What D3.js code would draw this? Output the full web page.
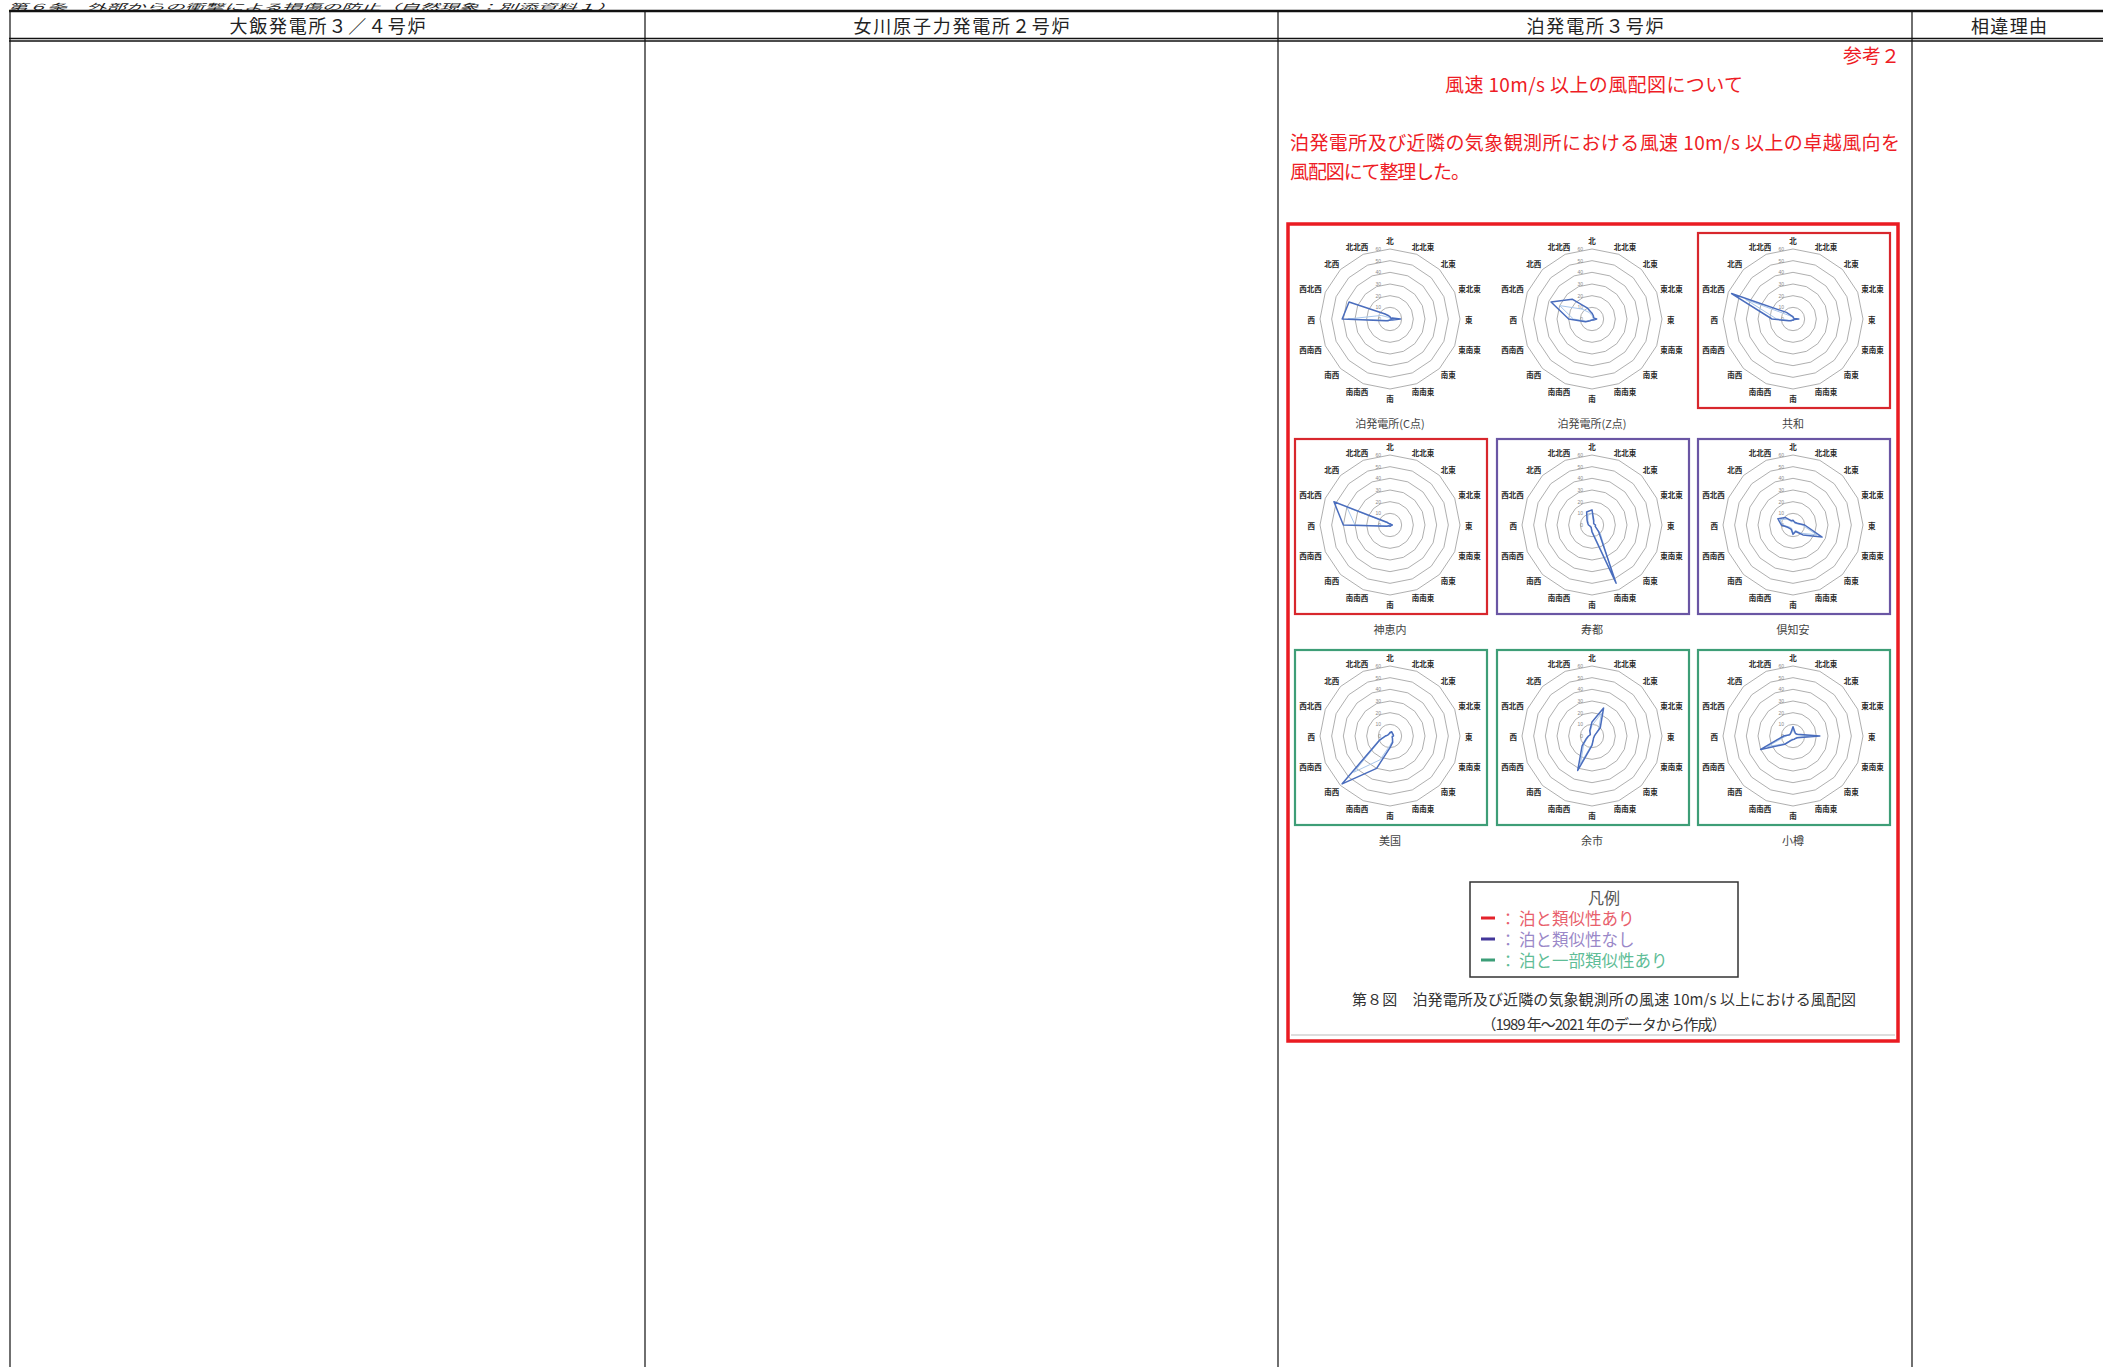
<!DOCTYPE html>
<meta charset="utf-8">
<head>
<style>
body { margin: 0; background: #fff; }
svg { display: block; }
</style>
<script src="https://d3js.org/d3.v7.min.js"></script>
</head>
<body>
<script>

// ---- data ----
var directions = ["北","北北東","北東","東北東","東","東南東","南東","南南東","南","南南西","南西","西南西","西","西北西","北西","北北西"];
var ringTicks = [0, 10, 20, 30, 40, 50, 60];

var stationNames = ["泊発電所(C点)","泊発電所(Z点)","共和","神恵内","寿都","倶知安","美国","余市","小樽"];
var similarity   = ["ref","ref","yes","yes","no","no","partial","partial","partial"];

// main series (dark blue), 北 -> clockwise
var tomariC  = [2,1,1,2,9,2,1,1,1,1,2,4,41,38,6,3];
var tomariZ  = [5,3,2,2,4,2,1,1,1,1,2,6,20,38,24,10];
var kyowa    = [2,1,1,1,5,1,1,1,1,1,2,4,18,57,8,3];
var kamoenai = [1,1,1,1,2,1,1,1,1,1,1,3,40,52,3,1];
var suttsu   = [13,4,2,2,3,3,8,54,6,2,2,2,3,4,6,12];
var kutchan  = [4,3,3,4,10,27,12,6,8,4,4,5,10,14,9,4];
var bikuni   = [3,4,3,3,3,2,3,6,10,30,58,10,4,2,2,2];
var yoichi   = [12,26,10,3,2,2,2,3,8,32,12,5,3,2,2,5];
var otaru    = [8,4,3,4,23,4,3,3,3,4,10,30,8,3,3,4];

// second series (light blue)
var tomariC2  = [1,1,1,1,4,1,1,1,1,1,1,3,36,8,2,1];
var tomariZ2  = [3,2,1,1,3,1,1,1,1,1,1,5,16,30,12,6];
var kyowa2    = [1,1,1,1,3,1,1,1,1,1,1,3,14,44,4,2];
var kamoenai2 = [1,1,1,1,2,1,1,1,1,1,1,2,30,40,2,1];
var suttsu2   = [10,3,2,2,3,3,10,46,5,2,2,2,3,3,5,9];
var kutchan2  = [3,3,2,3,8,22,10,5,7,3,3,4,9,12,7,3];
var bikuni2   = [2,3,3,2,2,2,3,5,8,22,44,9,3,2,2,2];
var yoichi2   = [9,21,8,3,2,2,2,3,7,26,10,4,3,2,2,4];
var otaru2    = [6,3,3,3,18,3,3,3,3,3,9,24,6,3,3,3];

var mainSeries  = [tomariC, tomariZ, kyowa, kamoenai, suttsu, kutchan, bikuni, yoichi, otaru];
var lightSeries = [tomariC2, tomariZ2, kyowa2, kamoenai2, suttsu2, kutchan2, bikuni2, yoichi2, otaru2];

var headers = ["大飯発電所３／４号炉","女川原子力発電所２号炉","泊発電所３号炉","相違理由"];

var legendItems = [
  {key: "yes",     text: "泊と類似性あり"},
  {key: "no",      text: "泊と類似性なし"},
  {key: "partial", text: "泊と一部類似性あり"}
];

// ---- layout ----
var W = 2103, H = 1367;
var font = '"Noto Sans CJK JP", "Noto Sans CJK SC", sans-serif';
var red = "#ee1c25";

var frameColor = {ref: null, yes: "#d8272d", no: "#6a56a4", partial: "#3e9e77"};
var dashColor  = {yes: "#e4222b", no: "#43369a", partial: "#3c9e78"};
var textColor  = {yes: "#e8606c", no: "#9a88c8", partial: "#5fbd97"};

var svg = d3.select("body").append("svg")
    .attr("width", W)
    .attr("height", H)
    .style("font-family", font);

// top caption (squeezed into the strip above the table)
svg.append("text")
    .attr("x", 8).attr("y", 9.5)
    .attr("font-size", 8.5)
    .attr("font-style", "italic")
    .attr("textLength", 608)
    .attr("lengthAdjust", "spacingAndGlyphs")
    .attr("fill", "#222")
    .text("第６条　外部からの衝撃による損傷の防止（自然現象：別添資料１）");

// ---- table ----
var colEdges = [10, 645, 1278, 1912, 2106];
var headW = [196, 216, 137, 76];

var table = svg.append("g");

colEdges.forEach(function(x){
  table.append("line")
      .attr("x1", x).attr("x2", x)
      .attr("y1", 11).attr("y2", H)
      .attr("stroke", "#333")
      .attr("stroke-width", 1.4);
});

table.append("line")
    .attr("x1", 9).attr("x2", W).attr("y1", 11).attr("y2", 11)
    .attr("stroke", "#111").attr("stroke-width", 2.5);
table.append("line")
    .attr("x1", 9).attr("x2", W).attr("y1", 38.5).attr("y2", 38.5)
    .attr("stroke", "#111").attr("stroke-width", 1.4);
table.append("line")
    .attr("x1", 9).attr("x2", W).attr("y1", 41).attr("y2", 41)
    .attr("stroke", "#111").attr("stroke-width", 1.4);

headers.forEach(function(h, i){
  table.append("text")
      .attr("x", (colEdges[i] + colEdges[i+1]) / 2)
      .attr("y", 25)
      .attr("text-anchor", "middle")
      .attr("dominant-baseline", "central")
      .attr("font-size", 18)
      .attr("textLength", headW[i])
      .attr("fill", "#222")
      .text(h);
});

// ---- red texts in column 3 ----
svg.append("text")
    .attr("x", 1900).attr("y", 54)
    .attr("text-anchor", "end").attr("dominant-baseline", "central")
    .attr("font-size", 19).attr("fill", red)
    .text("参考２");

svg.append("text")
    .attr("x", 1594).attr("y", 83)
    .attr("text-anchor", "middle").attr("dominant-baseline", "central")
    .attr("font-size", 19).attr("fill", red)
    .attr("textLength", 298)
    .text("風速 10m/s 以上の風配図について");

svg.append("text")
    .attr("x", 1290).attr("y", 141)
    .attr("dominant-baseline", "central")
    .attr("font-size", 19).attr("fill", red)
    .attr("textLength", 610)
    .text("泊発電所及び近隣の気象観測所における風速 10m/s 以上の卓越風向を");

svg.append("text")
    .attr("x", 1290).attr("y", 170)
    .attr("dominant-baseline", "central")
    .attr("font-size", 19).attr("fill", red)
    .attr("textLength", 180)
    .text("風配図にて整理した。");

// outer red frame
svg.append("rect")
    .attr("x", 1288).attr("y", 224)
    .attr("width", 610).attr("height", 817)
    .attr("fill", "none")
    .attr("stroke", "#ea1b22")
    .attr("stroke-width", 3.5);

svg.append("line")
    .attr("x1", 1291).attr("x2", 1895).attr("y1", 1035).attr("y2", 1035)
    .attr("stroke", "#bbb").attr("stroke-width", 1);

// ---- radar charts ----
var colX = [1390, 1592, 1793];
var rowY = [319, 525, 736];

var r = d3.scaleLinear().domain([0, 60]).range([0, 70]);
var angle = d3.scalePoint().domain(directions).range([0, 2 * Math.PI * 15 / 16]);

var ring = d3.lineRadial()
    .angle(function(d, i){ return angle(directions[i]); })
    .radius(function(d){ return r(d); })
    .curve(d3.curveLinearClosed);

stationNames.forEach(function(name, k){
  var cx = colX[k % 3], cy = rowY[Math.floor(k / 3)];
  var g = svg.append("g").attr("transform", "translate(" + cx + "," + cy + ")");

  var fc = frameColor[similarity[k]];
  if (fc) {
    g.append("rect")
        .attr("x", -95).attr("y", -86)
        .attr("width", 192).attr("height", 175)
        .attr("fill", "none")
        .attr("stroke", fc)
        .attr("stroke-width", 2.2);
  }

  // grid rings (16-gon)
  ringTicks.slice(1).forEach(function(v){
    g.append("path")
        .attr("d", ring(directions.map(function(){ return v; })))
        .attr("fill", "none")
        .attr("stroke", "#9a9a9a")
        .attr("stroke-width", 0.8);
  });

  // value labels on north axis
  ringTicks.forEach(function(v){
    g.append("text")
        .attr("x", -9).attr("y", -r(v))
        .attr("text-anchor", "end").attr("dominant-baseline", "central")
        .attr("font-size", 5).attr("fill", "#8a8a8a")
        .style("font-family", "Liberation Sans, sans-serif")
        .text(v);
  });

  // direction labels
  directions.forEach(function(d){
    var a = angle(d);
    var hw = d.length * 3.7;
    var x = Math.sin(a) * (r(60) + 5) + Math.sin(a) * hw;
    var y = -Math.cos(a) * (r(60) + 5) - Math.cos(a) * 4;
    g.append("text")
        .attr("x", x).attr("y", y)
        .attr("text-anchor", "middle").attr("dominant-baseline", "central")
        .attr("font-size", 7.5).attr("font-weight", 700).attr("fill", "#2a2a2a")
        .text(d);
  });

  g.append("path")
      .attr("d", ring(lightSeries[k]))
      .attr("fill", "none")
      .attr("stroke", "#a8c6ea")
      .attr("stroke-width", 1);

  g.append("path")
      .attr("d", ring(mainSeries[k]))
      .attr("fill", "none")
      .attr("stroke", "#4a6dbd")
      .attr("stroke-width", 1.5)
      .attr("stroke-linejoin", "round");

  svg.append("text")
      .attr("x", cx).attr("y", cy + 104)
      .attr("text-anchor", "middle").attr("dominant-baseline", "central")
      .attr("font-size", 11).attr("fill", "#444")
      .text(name);
});

// ---- legend ----
var lg = svg.append("g");
lg.append("rect")
    .attr("x", 1470).attr("y", 882)
    .attr("width", 268).attr("height", 95)
    .attr("fill", "#fff")
    .attr("stroke", "#333")
    .attr("stroke-width", 1.5);

lg.append("text")
    .attr("x", 1604).attr("y", 897)
    .attr("text-anchor", "middle").attr("dominant-baseline", "central")
    .attr("font-size", 16).attr("fill", "#555")
    .text("凡例");

legendItems.forEach(function(it, i){
  var y = 918 + i * 21;
  lg.append("rect")
      .attr("x", 1481).attr("y", y - 1.5)
      .attr("width", 14).attr("height", 3)
      .attr("fill", dashColor[it.key]);
  lg.append("text")
      .attr("x", 1500).attr("y", y)
      .attr("dominant-baseline", "central")
      .attr("font-size", 16).attr("fill", textColor[it.key])
      .text("：");
  lg.append("text")
      .attr("x", 1519).attr("y", y)
      .attr("dominant-baseline", "central")
      .attr("font-size", 16.5).attr("fill", textColor[it.key])
      .text(it.text);
});

// ---- figure caption ----
svg.append("text")
    .attr("x", 1604).attr("y", 998)
    .attr("text-anchor", "middle").attr("dominant-baseline", "central")
    .attr("font-size", 15).attr("fill", "#333")
    .attr("textLength", 504)
    .text("第８図　泊発電所及び近隣の気象観測所の風速 10m/s 以上における風配図");

svg.append("text")
    .attr("x", 1604).attr("y", 1023)
    .attr("text-anchor", "middle").attr("dominant-baseline", "central")
    .attr("font-size", 15).attr("fill", "#333")
    .attr("textLength", 245)
    .text("（1989 年～2021 年のデータから作成）");

</script>
</body>
